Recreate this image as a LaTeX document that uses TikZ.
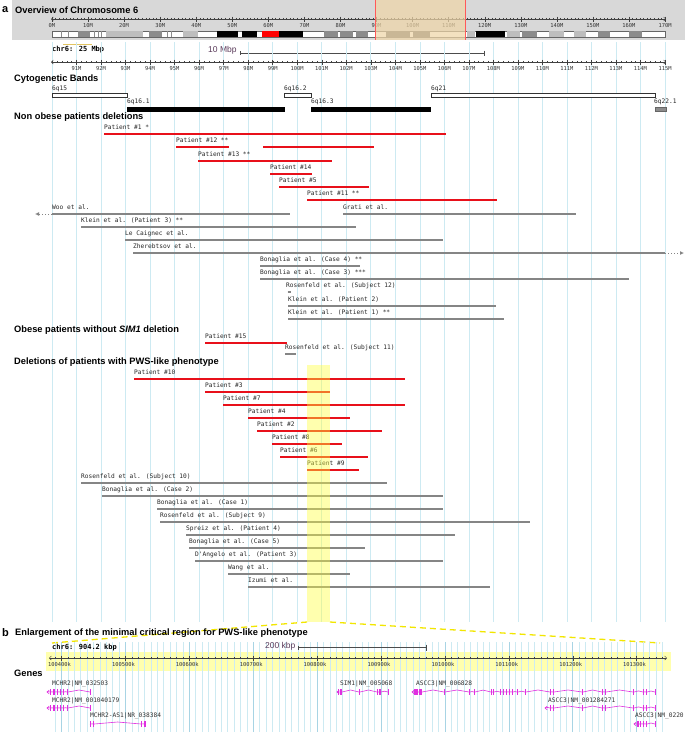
\documentclass[tikz,border=0pt]{standalone}
\usepackage{fontspec}
\setmainfont{Liberation Sans}
\newfontfamily\monof{DejaVu Sans Mono}
\usetikzlibrary{arrows.meta}
\definecolor{gridc}{HTML}{CDEAF2}
\definecolor{gridd}{HTML}{A8D4E4}
\definecolor{redb}{HTML}{E8101A}
\definecolor{grayb}{HTML}{858585}
\definecolor{hdrbg}{HTML}{D8D8D8}
\definecolor{tanh}{HTML}{EFD6A8}
\definecolor{yelo}{HTML}{FFFF40}
\definecolor{yeld}{HTML}{F2E600}
\definecolor{genec}{HTML}{E030E0}
\definecolor{mbp}{HTML}{5A3A5A}
\definecolor{lg}{HTML}{BEBEBE}
\definecolor{mg}{HTML}{8C8C8C}
\definecolor{dg}{HTML}{6A6A6A}
\newcommand\rbar[4]{\draw[redbar] (#1,#3) -- (#2,#3); \node[lbl] at (#1,#3-6.5) {#4};}
\newcommand\gbar[4]{\draw[graybar] (#1,#3) -- (#2,#3); \node[lbl] at (#1,#3-6.5) {#4};}
\newcommand\intr[3]{\draw[gl] (#1,#3) -- ({(#1+#2)/2},{#3-min(2,(#2-#1)*0.12)}) -- (#2,#3);}
\newcommand\exn[3]{\fill[genec] (#1,#3-2.6) rectangle (#2,#3+2.6);}
\newcommand\garr[2]{\draw[gl] (#1+2.2,#2-1.8) -- (#1,#2) -- (#1+2.2,#2+1.8);}
\begin{document}
\begin{tikzpicture}[x=1pt,y=-1pt,
  hd/.style={font=\fontsize{9.3}{10}\selectfont\bfseries, anchor=west, inner sep=0},
  lbl/.style={font=\monof\fontsize{6.2}{7}\selectfont, anchor=west, inner sep=0, text=black!85},
  rl/.style={font=\monof\fontsize{5.4}{6}\selectfont, inner sep=0, text=black!80},
  redbar/.style={draw=redb, line width=2.2pt},
  graybar/.style={draw=grayb, line width=2.2pt},
  gridl/.style={draw=gridc, line width=0.6pt},
  gl/.style={draw=genec, line width=0.6pt},
]
\useasboundingbox (0,0) rectangle (685,732);
\fill[white] (0,0) rectangle (685,732);
% ---------- header a ----------
\fill[hdrbg] (12,0) rectangle (685,40);
\node[font=\fontsize{11}{12}\selectfont\bfseries, anchor=west, inner sep=0] (la) at (2,9.5) {a};
\node[hd] (ha) at (15,10) {Overview of Chromosome 6};
% top ruler
\draw[black!75, line width=0.5pt, {Straight Barb[length=2pt,width=4pt]}-{Straight Barb[length=2pt,width=4pt]}] (51,19) -- (666,19);
\foreach \i in {0,...,170} \draw[black!75, line width=0.35pt] ({52+3.606*\i},17.8) -- ++(0,2.4);
\foreach \i in {0,...,17} {
  \draw[black!75, line width=0.4pt] ({52+36.06*\i},16.5) -- ++(0,5);
  \pgfmathtruncatemacro\v{\i*10}
  \node[rl] at ({52+36.06*\i},26) {\v M};
}
% ideogram
\draw[black!60, fill=white, line width=0.3pt] (52,31) rectangle (665,37);
\foreach \a/\b/\c in {60.5/61.5/mg, 67.5/68.5/mg, 78/90/mg, 93.5/94.5/mg, 97.5/98.5/mg, 101/102/mg,
  106/143/lg, 149/162/mg, 167/168/mg, 171/172/mg, 183/198/lg, 217/238/black, 242/257/black,
  262/269.6/red, 270.4/279/red, 279/303/black, 324/338/mg, 340/353/mg, 356/368/mg, 386/410/dg, 413/430/dg,
  467/475/lg, 476/505/black, 507/520/lg, 522/537/mg, 549/564/lg, 574/586/lg, 598/610/mg, 629/642/mg}
  \fill[\c] (\a,31.3) rectangle (\b,36.7);
\fill[tanh, opacity=0.72] (375,0) rectangle (465,40);
\draw[red!65, line width=0.6pt] (375,0) -- (375,40) (465,0) -- (465,40);
% ---------- second ruler area ----------
\draw[yellow!40!brown!80, line width=0.9pt] (63,44) -- (92,44);
\node[font=\monof\bfseries\fontsize{7}{8}\selectfont, anchor=west, inner sep=0] (chr) at (52,50) {chr6: 25 Mbp};
\node[font=\fontsize{8.5}{9}\selectfont, text=mbp, anchor=west, inner sep=0] (tenm) at (208,50) {10 Mbp};
\draw[black!70, line width=0.5pt] (240,53) -- (484,53) (240,51) -- (240,55) (484,50.5) -- (484,55.5);
% grid lines a
\foreach \k in {0,...,25} \draw[gridl] ({52+24.52*\k},42) -- ({52+24.52*\k},622);
% detail ruler
\draw[black!75, line width=0.5pt, {Straight Barb[length=2pt,width=4pt]}-{Straight Barb[length=2pt,width=4pt]}] (51,62) -- (666,62);
\foreach \i in {0,...,125} \draw[black!75, line width=0.35pt] ({52+4.904*\i},60.8) -- ++(0,2.4);
\foreach \m in {91,...,115} {
  \draw[black!75, line width=0.4pt] ({52+24.52*(\m-90)},59.5) -- ++(0,5);
  \node[rl] at ({52+24.52*(\m-90)},68.5) {\m M};
}
% ---------- cytogenetic bands ----------
\node[hd] (hc) at (14,79) {Cytogenetic Bands};
\node[lbl] at (52,89) {6q15};
\draw[black!80, fill=white, line width=0.4pt] (52,93.5) rectangle (127,97.5);
\node[lbl] at (127,101.5) {6q16.1};
\fill[black] (127,107) rectangle (285,111.5);
\node[lbl] at (284,89) {6q16.2};
\draw[black!80, fill=white, line width=0.4pt] (284,93.5) rectangle (311,97.5);
\node[lbl] at (311,101.5) {6q16.3};
\fill[black] (311,107) rectangle (431,111.5);
\node[lbl] at (431,89) {6q21};
\draw[black!80, fill=white, line width=0.4pt] (431,93.5) rectangle (655,97.5);
\node[lbl] at (654,101.5) {6q22.1};
\draw[black!60, fill=mg, line width=0.3pt] (655,107) rectangle (666,111.5);
% ---------- non obese ----------
\node[hd] (hn) at (14,117) {Non obese patients deletions};
\rbar{104}{446}{134}{Patient \#1 *}
\rbar{176}{229}{147}{Patient \#12 **}
\draw[redbar] (263,147) -- (374,147);
\rbar{198}{332}{161}{Patient \#13 **}
\rbar{270}{312}{174}{Patient \#14}
\rbar{279}{369}{187}{Patient \#5}
\rbar{307}{497}{200}{Patient \#11 **}
\gbar{52}{290}{214}{Woo et al.}
\draw[grayb, line width=1pt, dotted, -{Latex[length=4pt,width=4pt]}] (52,214) -- (35,214);
\gbar{343}{576}{214}{Grati et al.}
\gbar{81}{356}{227}{Klein et al. (Patient 3) **}
\gbar{125}{443}{240}{Le Caignec et al.}
\gbar{133}{665}{253}{Zherebtsov et al.}
\draw[grayb, line width=1pt, dotted, -{Latex[length=4pt,width=4pt]}] (665,253) -- (684,253);
\gbar{260}{360}{266}{Bonaglia et al. (Case 4) **}
\gbar{260}{629}{279}{Bonaglia et al. (Case 3) ***}
\node[lbl] at (286,285.5) {Rosenfeld et al. (Subject 12)};
\draw[grayb, line width=0.6pt] (287.5,291) -- (290.5,291) (287.5,292.6) -- (290.5,292.6);
\gbar{288}{496}{306}{Klein et al. (Patient 2)}
\gbar{288}{504}{319}{Klein et al. (Patient 1) **}
% ---------- obese ----------
\node[hd] (ho) at (14,330) {Obese patients without \textit{SIM1} deletion};
\rbar{205}{287}{343}{Patient \#15}
\gbar{285}{296}{354}{Rosenfeld et al. (Subject 11)}
% ---------- PWS ----------
\node[hd] (hp) at (14,362) {Deletions of patients with PWS-like phenotype};
\rbar{134}{405}{379}{Patient \#10}
\rbar{205}{330}{392}{Patient \#3}
\rbar{223}{405}{405}{Patient \#7}
\rbar{248}{350}{418}{Patient \#4}
\rbar{257}{382}{431}{Patient \#2}
\rbar{272}{342}{444}{Patient \#8}
\rbar{280}{368}{457}{Patient \#6}
\rbar{307}{359}{470}{Patient \#9}
\gbar{81}{387}{483}{Rosenfeld et al. (Subject 10)}
\gbar{102}{443}{496}{Bonaglia et al. (Case 2)}
\gbar{157}{443}{509}{Bonaglia et al. (Case 1)}
\gbar{160}{530}{522}{Rosenfeld et al. (Subject 9)}
\gbar{186}{455}{535}{Spreiz et al. (Patient 4)}
\gbar{189}{365}{548}{Bonaglia et al. (Case 5)}
\gbar{195}{443}{561}{D'Angelo et al. (Patient 3)}
\gbar{228}{350}{574}{Wang et al.}
\gbar{248}{490}{587}{Izumi et al.}
\fill[yelo, opacity=0.42] (307,365) rectangle (330,622);
% ---------- section b ----------
\draw[yeld, line width=1.3pt, dash pattern=on 6pt off 4pt] (307,622) -- (52,643);
\draw[yeld, line width=1.3pt, dash pattern=on 6pt off 4pt] (330,622) -- (660,643);
\node[font=\fontsize{11}{12}\selectfont\bfseries, anchor=west, inner sep=0] (lb) at (2,632.5) {b};
\node[hd] (hb) at (15,633) {Enlargement of the minimal critical region for PWS-like phenotype};
\fill[yelo, opacity=0.42] (46,652) rectangle (671,671);
\foreach \k in {-1,...,94} {
  \pgfmathtruncatemacro\r{mod(\k+10,10)}
  \ifnum\r=0 \draw[gridd, line width=0.6pt] ({61.5+6.39*\k},642) -- ({61.5+6.39*\k},732);
  \else \draw[gridc, line width=0.5pt] ({61.5+6.39*\k},642) -- ({61.5+6.39*\k},732); \fi
}
\node[font=\monof\bfseries\fontsize{7}{8}\selectfont, anchor=west, inner sep=0] (chrb) at (52,648) {chr6: 904.2 kbp};
\node[font=\fontsize{8.5}{9}\selectfont, text=mbp, anchor=west, inner sep=0] (twok) at (265,646) {200 kbp};
\draw[black!70, line width=0.5pt] (298,647.5) -- (426,647.5) (298,645.5) -- (298,649.5) (426,644.5) -- (426,650.5);
\draw[black!75, line width=0.5pt, {Straight Barb[length=2pt,width=4pt]}-{Straight Barb[length=2pt,width=4pt]}] (49,658) -- (667,658);
\foreach \k in {-1,...,94} \draw[black!75, line width=0.35pt] ({61.5+6.39*\k},656.8) -- ++(0,2.4);
\foreach \k in {0,...,9} {
  \pgfmathtruncatemacro\v{1004+\k}
  \draw[black!75, line width=0.4pt] ({61.5+63.9*\k},655.5) -- ++(0,5);
  \node[rl] at ({59.5+63.9*\k},664.5) {\v 00k};
}
\node[hd] (hg) at (14,673) {Genes};
% genes
\node[lbl, text=black!80] at (52,684) {MCHR2|NM\_032503};
\node[lbl, text=black!80] at (52,701) {MCHR2|NM\_001040179};
\node[lbl, text=black!80] at (90,716) {MCHR2-AS1|NR\_038384};
\node[lbl, text=black!80] at (340,684) {SIM1|NM\_005068};
\node[lbl, text=black!80] at (416,684) {ASCC3|NM\_006828};
\node[lbl, text=black!80] at (548,701) {ASCC3|NM\_001284271};
\node[lbl, text=black!80] at (635,716) {ASCC3|NM\_0220};
\foreach \y in {692,708} {
  \garr{47}{\y}
  \foreach \a/\b [remember=\b as \pb (initially 47)] in {50/51,53/55,57/58,60/61,63/64,67/68,90/91} {\intr{\pb}{\a}{\y} \exn{\a}{\b}{\y}}
}
\foreach \a/\b [remember=\b as \pb (initially 91)] in {90/91.2,93/94.2,141/142.2,144/146} {\intr{\pb}{\a}{724} \exn{\a}{\b}{724}}
\garr{337}{692}
\foreach \a/\b [remember=\b as \pb (initially 337)] in {338/339,340/342,359/360,377/378,379/381,388/389} {\intr{\pb}{\a}{692} \exn{\a}{\b}{692}}
\garr{412}{692}
\foreach \a/\b [remember=\b as \pb (initially 412)] in {414/418,419/422,444/445,469/470,474/475,491/492,493/494,500/501,503/504,506/507,509/510,512/513,517/518,525/526,550/551,553/554,582/583,602/603,605/606,633/634,643/644,646/647,655/656} {\intr{\pb}{\a}{692} \exn{\a}{\b}{692}}
\garr{545}{708}
\foreach \a/\b [remember=\b as \pb (initially 545)] in {550/551,553/554,582/583,602/603,605/606,633/634,643/644,646/647,655/656} {\intr{\pb}{\a}{708} \exn{\a}{\b}{708}}
\garr{634}{724}
\foreach \a/\b [remember=\b as \pb (initially 634)] in {637/639,640/641,643/644,646/647,655/656} {\intr{\pb}{\a}{724} \exn{\a}{\b}{724}}
\end{tikzpicture}
\end{document}
